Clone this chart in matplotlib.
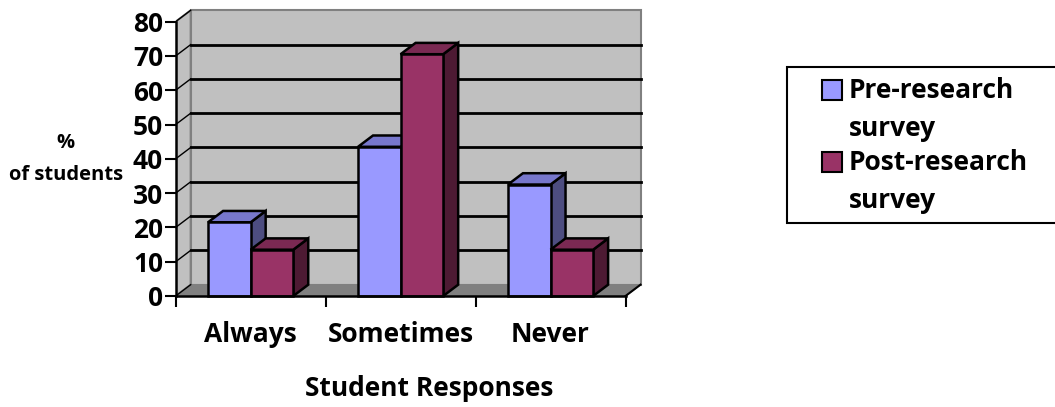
import numpy as np
import matplotlib
matplotlib.use('Agg')
import matplotlib.pyplot as plt
from matplotlib.patches import Polygon, Rectangle

plt.rcParams['font.family'] = ['Open Sans', 'DejaVu Sans']
plt.rcParams['font.weight'] = 'bold'

# data
categories = ['Always', 'Sometimes', 'Never']
series_names = [['Pre-research', 'survey'], ['Post-research', 'survey']]
pre_values = [21.5, 43.5, 32.5]
post_values = [13.5, 70.5, 13.5]

# colours: front, side, top
pre_colors = ('#9999FF', '#4D4D80', '#7777CC')
post_colors = ('#993366', '#4D1A33', '#7A2952')

W = 1055
H = 407
fig = plt.figure(figsize=(W / 100, H / 100), dpi=100)
ax = fig.add_axes([175.7 / W, 1 - 296 / H, (648 - 175.7) / W, (296 - 7.9) / H])
ax.set_xlim(-0.5, 2.65)
ax.set_ylim(0, 84)

dx = 0.1   # depth offset in x units
dy = 3.3   # depth offset in y units
bw = 0.284 # bar width
x0, x1 = -0.5, 2.5
ymax = 80

# side wall, back wall, floor
ax.add_patch(Polygon([(x0, 0), (x0 + dx, dy), (x0 + dx, ymax + dy), (x0, ymax)],
                     closed=True, fc='#C0C0C0', ec='#808080', lw=1.5, zorder=1))
ax.add_patch(Polygon([(x0 + dx, dy), (x1 + dx, dy), (x1 + dx, ymax + dy), (x0 + dx, ymax + dy)],
                     closed=True, fc='#C0C0C0', ec='#808080', lw=1.5, zorder=1))
ax.add_patch(Polygon([(x0, 0), (x1, 0), (x1 + dx, dy), (x0 + dx, dy)],
                     closed=True, fc='#808080', ec='#808080', lw=1, zorder=1, clip_on=False))
ax.plot([x1, x1 + dx], [0, dy], color='black', lw=1.5, zorder=2, clip_on=False)

# gridlines on back wall and side wall
for g in range(10, 80, 10):
    ax.plot([x0 + dx, x1 + dx], [g + dy, g + dy], color='black', lw=2, zorder=2)
for g in range(0, 90, 10):
    ax.plot([x0, x0 + dx], [g, g + dy], color='black', lw=1, zorder=2, clip_on=False)


def bar3d(xl, h, colors):
    front, side, top = colors
    ax.add_patch(Polygon([(xl + bw, 0), (xl + bw + dx, dy), (xl + bw + dx, h + dy), (xl + bw, h)],
                         closed=True, fc=side, ec='black', lw=1.8, zorder=3, joinstyle='miter'))
    ax.add_patch(Polygon([(xl, h), (xl + bw, h), (xl + bw + dx, h + dy), (xl + dx, h + dy)],
                         closed=True, fc=top, ec='black', lw=1.8, zorder=3, joinstyle='miter'))
    ax.add_patch(Rectangle((xl, 0), bw, h, fc=front, ec='black', lw=1.8, zorder=3,
                           joinstyle='miter', clip_on=False))


x = np.arange(len(categories))
for i in range(len(categories)):
    bar3d(x[i] - bw, pre_values[i], pre_colors)
    bar3d(x[i], post_values[i], post_colors)

# axes
for s in ['top', 'right']:
    ax.spines[s].set_visible(False)
ax.spines['left'].set_bounds(0, 80)
ax.spines['bottom'].set_bounds(x0, x1)
ax.spines['left'].set_linewidth(1.8)
ax.spines['bottom'].set_linewidth(1.8)
ax.spines['left'].set_zorder(5)
ax.spines['bottom'].set_zorder(5)
ax.set_yticks(range(0, 90, 10))
ax.set_yticklabels([str(v) for v in range(0, 90, 10)], fontsize=19, fontweight='bold')
ax.tick_params(axis='y', direction='out', length=8, width=1.5, pad=1)
ax.set_xticks([-0.5, 0.5, 1.5, 2.5])
ax.set_xticklabels([])
ax.tick_params(axis='x', direction='out', length=8, width=1.5)
ax.set_xticks(x, minor=True)
ax.set_xticklabels(categories, minor=True, fontsize=19, fontweight='bold')
ax.tick_params(axis='x', which='minor', length=0, pad=18)

fig.text(429 / W, 1 - 388 / H, 'Student Responses', ha='center', va='center',
         fontsize=19, fontweight='bold')
fig.text(65 / W, 1 - 143 / H, '%', ha='center', va='center', fontsize=14.5, fontweight='bold')
fig.text(66 / W, 1 - 175 / H, 'of students', ha='center', va='center', fontsize=14.5, fontweight='bold')

# legend
fig.patches.append(Rectangle((787 / W, 1 - 223 / H), 300 / W, 156 / H, transform=fig.transFigure,
                             fc='white', ec='black', lw=1.5))
for lines, c, yc in zip(series_names, [pre_colors[0], post_colors[0]], [90, 162]):
    fig.patches.append(Rectangle((822 / W, 1 - (yc + 10) / H), 20 / W, 20 / H,
                                 transform=fig.transFigure, fc=c, ec='black', lw=1.5))
    fig.text(849 / W, 1 - (yc + 1) / H, lines[0], ha='left', va='center', fontsize=19,
             fontweight='bold')
    fig.text(849 / W, 1 - (yc + 38) / H, lines[1], ha='left', va='center', fontsize=19,
             fontweight='bold')

fig.savefig('out.png', dpi=100)
